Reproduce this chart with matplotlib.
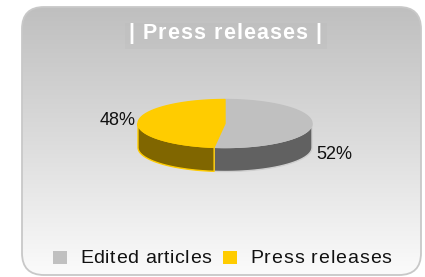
import numpy as np
import matplotlib
matplotlib.use('Agg')
import matplotlib.pyplot as plt
from matplotlib.patches import FancyBboxPatch, Polygon, Rectangle
from matplotlib.font_manager import FontProperties

# Dados do gráfico
categorias = ['Edited articles', 'Press releases']
valores = [52, 48]
cores_topo = ['#c0c0c0', '#ffcc00']
cores_lado = ['#616161', '#806600']
cores_borda = ['#cfcfcf', '#ffcc00']
titulo = '| Press releases |'

plt.rcParams['font.family'] = ['Liberation Sans', 'DejaVu Sans']

fig = plt.figure(figsize=(4.25, 2.77), dpi=100)
ax = fig.add_axes([0, 0, 1, 1])
ax.set_xlim(0, 425)
ax.set_ylim(277, 0)
ax.axis('off')
renderer = fig.canvas.get_renderer()


def texto_espacado(x, y, s, tamanho, espaco, peso='normal', cor='#111111', centro=False):
    """Desenha texto com espaçamento extra entre letras (em pixels)."""
    prop = FontProperties(family='Liberation Sans', size=tamanho, weight=peso)
    larg = lambda t: renderer.get_text_width_height_descent(t, prop, ismath=False)[0] if t else 0
    total = larg(s) + espaco * (len(s) - 1)
    x0 = x - total / 2 if centro else x
    for i, ch in enumerate(s):
        if ch == ' ':
            continue
        ax.text(x0 + larg(s[:i]) + espaco * i, y, ch, fontproperties=prop, color=cor,
                ha='left', va='center', zorder=7)


# Caixa arredondada com degradê
caixa = FancyBboxPatch((22, 7), 399, 268, boxstyle='round,pad=0,rounding_size=22',
                       facecolor='none', edgecolor='#c8c8c8', linewidth=1.3, zorder=3)
ax.add_patch(caixa)
grad = np.linspace(0, 1, 256).reshape(-1, 1)
cmap = matplotlib.colors.LinearSegmentedColormap.from_list('fundo', ['#bfbfbf', '#dcdcdc', '#fbfbfb'])
img = ax.imshow(grad, cmap=cmap, aspect='auto', extent=[22, 421, 275, 7], zorder=0)
img.set_clip_path(caixa)

# Faixa do título
ax.add_patch(Rectangle((125, 23), 202, 26, facecolor='#b0b0b0', alpha=0.15, edgecolor='none', zorder=1))
texto_espacado(225, 33.5, titulo, 15.5, 1.1, peso='bold', cor='white', centro=True)

# Pizza 3D
cx, cy, rx, ry, prof = 225, 123.5, 87, 24, 24


def ponto(t):
    return cx + rx * np.cos(t), cy - ry * np.sin(t)


fracoes = np.array(valores) / np.sum(valores)
inicio = np.pi / 2
angulos = []
for f in fracoes:
    fim = inicio - f * 2 * np.pi
    angulos.append((inicio, fim))
    inicio = fim

# lados (somente a metade da frente)
for (a0, a1), cl, cb in zip(angulos, cores_lado, cores_borda):
    lo, hi = min(a0, a1), max(a0, a1)
    segs = []
    for off in (0, 2 * np.pi, -2 * np.pi):
        s, e = max(lo + off, -np.pi), min(hi + off, 0)
        if e > s:
            segs.append((s, e))
    for s, e in segs:
        t = np.linspace(s, e, 80)
        xs, ys = ponto(t)
        pts = np.column_stack([np.concatenate([xs, xs[::-1]]),
                               np.concatenate([ys, ys[::-1] + prof])])
        ax.add_patch(Polygon(pts, closed=True, facecolor=cl, edgecolor=cb, linewidth=1.0, zorder=5))

# topos
for (a0, a1), ct, cb in zip(angulos, cores_topo, cores_borda):
    t = np.linspace(a0, a1, 150)
    xs, ys = ponto(t)
    pts = np.column_stack([np.concatenate([[cx], xs]), np.concatenate([[cy], ys])])
    ax.add_patch(Polygon(pts, closed=True, facecolor=ct, edgecolor=cb if ct == '#ffcc00' else ct,
                         linewidth=1.0, zorder=6))

# rótulos de porcentagem
for (a0, a1), v in zip(angulos, valores):
    meio = (a0 + a1) / 2
    x, y = ponto(meio)
    if np.cos(meio) >= 0:
        ax.text(x + 4, y + prof + 5, f'{v}%', fontsize=13, ha='left', va='center', color='#111111', zorder=7)
    else:
        ax.text(x - 3, y - 1, f'{v}%', fontsize=13, ha='right', va='center', color='#111111', zorder=7)

# legenda
leg_x = [53, 223]
leg_esp = [0.55, 0.9]
for xq, cat, ct, esp in zip(leg_x, categorias, cores_topo, leg_esp):
    ax.add_patch(Rectangle((xq, 251), 14, 13, facecolor=ct, edgecolor='none', zorder=7))
    texto_espacado(xq + 27, 258.5, cat, 14, esp)

fig.savefig('out.png', dpi=100)
